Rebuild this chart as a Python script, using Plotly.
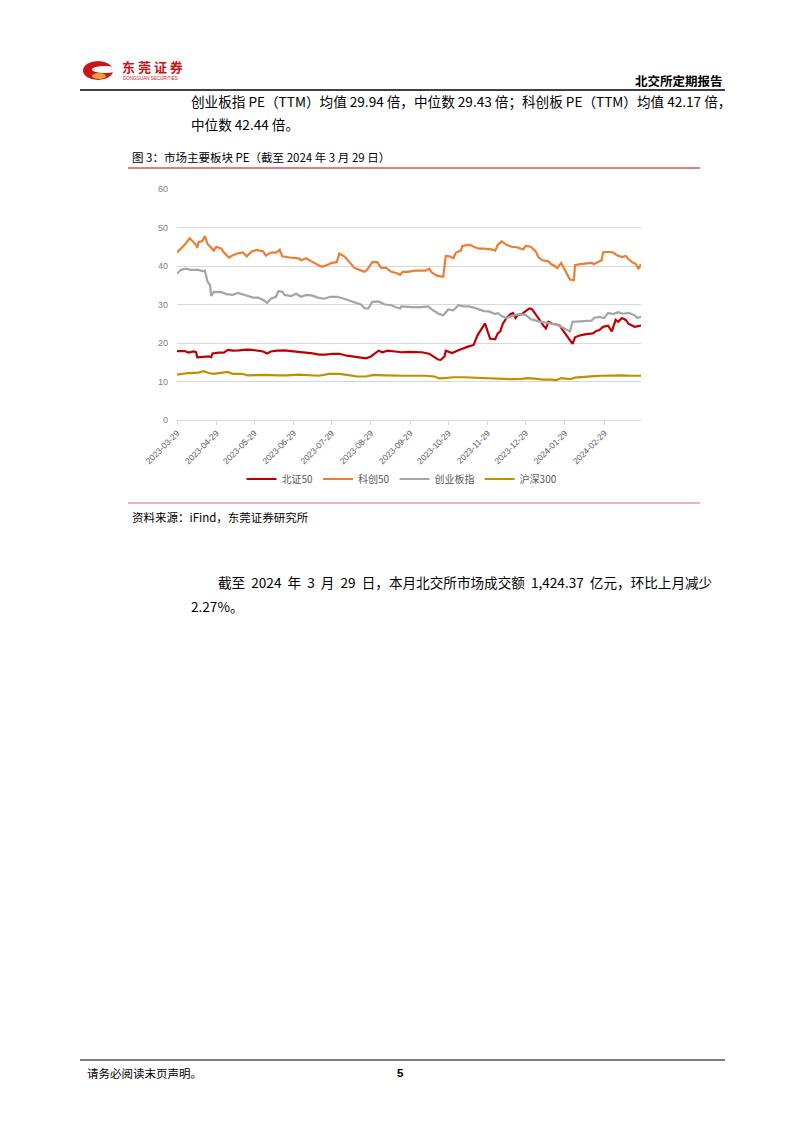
import plotly.graph_objects as go

W, H = 802, 1133

# ---------------- data ----------------
series_names = ["北证50", "科创50", "创业板指", "沪深300"]
series_colors = ["#C00000", "#ED7D31", "#A5A5A5", "#BF9000"]

bz50_dates = ["2023-03-29","2023-04-04","2023-04-07","2023-04-11","2023-04-13","2023-04-14","2023-04-19","2023-04-23","2023-04-25","2023-04-26",
              "2023-05-01","2023-05-05","2023-05-08","2023-05-12","2023-05-17","2023-05-23","2023-05-27","2023-05-31","2023-06-05","2023-06-08",
              "2023-06-11","2023-06-16","2023-06-22","2023-06-27","2023-07-03","2023-07-08","2023-07-14","2023-07-19","2023-07-24","2023-07-30",
              "2023-08-04","2023-08-10","2023-08-15","2023-08-21","2023-08-25","2023-08-29","2023-09-02","2023-09-04","2023-09-07","2023-09-11",
              "2023-09-17","2023-09-22","2023-09-28","2023-10-03","2023-10-08","2023-10-14","2023-10-18","2023-10-21","2023-10-23","2023-10-26",
              "2023-10-27","2023-11-01","2023-11-05","2023-11-09","2023-11-13","2023-11-15","2023-11-18","2023-11-21","2023-11-23","2023-11-25",
              "2023-11-27","2023-11-29","2023-12-01","2023-12-05","2023-12-07","2023-12-09","2023-12-11","2023-12-14","2023-12-17","2023-12-19",
              "2023-12-21","2023-12-23","2023-12-26","2023-12-29","2024-01-01","2024-01-03","2024-01-06","2024-01-09","2024-01-12","2024-01-14",
              "2024-01-16","2024-01-19","2024-01-22","2024-01-25","2024-01-27","2024-01-30","2024-02-02","2024-02-04","2024-02-06","2024-02-10",
              "2024-02-15","2024-02-20","2024-02-23","2024-02-25","2024-02-28","2024-03-03","2024-03-06","2024-03-09","2024-03-11","2024-03-14",
              "2024-03-17","2024-03-19","2024-03-24","2024-03-26","2024-03-29"]
bz50_values = [17.9,17.9,17.5,17.8,17.6,16.3,16.4,16.5,16.3,17.3,
               17.5,17.5,18.2,18.0,18.1,18.3,18.2,18.0,17.8,17.3,
               17.8,18.0,18.1,17.9,17.7,17.6,17.3,17.0,17.0,17.2,
               17.2,16.7,16.5,16.2,16.0,16.5,17.5,18.0,17.6,18.0,
               17.8,17.6,17.7,17.6,17.6,17.2,16.3,15.7,15.6,16.5,
               18.0,17.4,18.0,18.6,19.0,19.2,19.5,22.0,23.0,24.2,
               25.1,23.0,21.1,21.0,22.5,23.0,25.0,26.5,27.5,27.8,
               26.5,27.3,27.5,28.3,29.0,28.8,27.5,26.0,24.5,23.8,
               25.5,25.0,24.8,24.5,23.5,22.0,20.5,19.8,21.5,22.0,
               22.3,22.5,23.2,23.3,24.2,24.5,23.0,26.0,25.5,26.5,
               26.0,25.0,24.2,24.3,24.5]

kc50_dates = ["2023-03-29","2023-04-01","2023-04-04","2023-04-08","2023-04-11","2023-04-13","2023-04-14","2023-04-15","2023-04-18","2023-04-20",
              "2023-04-22","2023-04-24","2023-04-27","2023-04-29","2023-05-03","2023-05-05","2023-05-09","2023-05-12","2023-05-16","2023-05-20",
              "2023-05-23","2023-05-27","2023-05-31","2023-06-05","2023-06-07","2023-06-11","2023-06-15","2023-06-18","2023-06-20","2023-06-26",
              "2023-07-03","2023-07-05","2023-07-09","2023-07-13","2023-07-17","2023-07-21","2023-07-25","2023-07-29","2023-08-02","2023-08-04",
              "2023-08-08","2023-08-12","2023-08-16","2023-08-20","2023-08-24","2023-08-26","2023-08-30","2023-09-03","2023-09-06","2023-09-10",
              "2023-09-14","2023-09-18","2023-09-21","2023-09-23","2023-09-27","2023-10-03","2023-10-11","2023-10-14","2023-10-16","2023-10-20",
              "2023-10-25","2023-10-27","2023-10-30","2023-11-02","2023-11-04","2023-11-08","2023-11-09","2023-11-13","2023-11-15","2023-11-18",
              "2023-11-22","2023-11-26","2023-12-02","2023-12-05","2023-12-07","2023-12-10","2023-12-14","2023-12-18","2023-12-23","2023-12-27",
              "2023-12-29","2024-01-02","2024-01-06","2024-01-08","2024-01-11","2024-01-16","2024-01-18","2024-01-21","2024-01-23","2024-01-26",
              "2024-01-28","2024-01-31","2024-02-02","2024-02-05","2024-02-06","2024-02-10","2024-02-16","2024-02-19","2024-02-21","2024-02-24",
              "2024-02-27","2024-02-28","2024-03-03","2024-03-07","2024-03-10","2024-03-14","2024-03-17","2024-03-19","2024-03-22","2024-03-25",
              "2024-03-27","2024-03-29"]
kc50_values = [43.5,44.5,45.5,47.2,46.0,45.5,44.7,46.2,46.5,47.8,
               45.8,45.0,44.0,45.0,44.5,43.5,42.2,42.8,43.3,43.5,
               42.5,43.8,44.2,43.8,42.7,43.5,43.5,44.2,42.5,42.2,
               42.0,41.5,42.0,41.2,40.5,39.8,40.2,40.8,41.0,43.2,
               42.5,41.0,39.5,39.0,38.5,39.0,41.0,41.0,39.5,39.5,
               38.5,38.2,37.7,38.5,38.5,38.8,38.8,39.3,38.3,37.5,
               37.2,42.6,42.5,42.0,43.5,44.0,45.2,45.4,45.5,45.0,
               44.5,44.5,44.3,44.0,45.5,46.4,45.5,45.0,44.8,44.3,
               45.2,45.0,43.8,42.3,41.5,41.2,40.5,40.0,39.5,40.8,
               39.5,37.5,36.5,36.3,40.2,40.5,40.7,40.8,40.5,41.0,
               41.5,43.5,43.7,43.5,42.8,42.3,42.6,41.8,41.0,40.5,
               39.2,40.5]

cyb_dates = ["2023-03-29","2023-04-01","2023-04-05","2023-04-09","2023-04-15","2023-04-18","2023-04-20","2023-04-22","2023-04-24","2023-04-25",
             "2023-04-27","2023-05-03","2023-05-07","2023-05-12","2023-05-16","2023-05-20","2023-05-24","2023-05-28","2023-06-01","2023-06-05",
             "2023-06-08","2023-06-11","2023-06-15","2023-06-17","2023-06-20","2023-06-22","2023-06-27","2023-07-01","2023-07-05","2023-07-09",
             "2023-07-14","2023-07-18","2023-07-23","2023-07-28","2023-08-02","2023-08-06","2023-08-10","2023-08-15","2023-08-21","2023-08-24",
             "2023-08-27","2023-08-30","2023-09-04","2023-09-09","2023-09-14","2023-09-18","2023-09-21","2023-09-22","2023-09-30","2023-10-08",
             "2023-10-13","2023-10-17","2023-10-22","2023-10-25","2023-10-29","2023-11-02","2023-11-06","2023-11-10","2023-11-14","2023-11-18",
             "2023-11-22","2023-11-26","2023-11-30","2023-12-05","2023-12-07","2023-12-10","2023-12-14","2023-12-18","2023-12-24","2023-12-29",
             "2024-01-02","2024-01-06","2024-01-10","2024-01-14","2024-01-18","2024-01-22","2024-01-26","2024-01-30","2024-02-02","2024-02-04",
             "2024-02-08","2024-02-13","2024-02-19","2024-02-21","2024-02-25","2024-02-29","2024-03-03","2024-03-07","2024-03-11","2024-03-15",
             "2024-03-19","2024-03-24","2024-03-26","2024-03-29"]
cyb_values = [38.0,39.0,39.3,39.0,39.0,38.7,38.8,36.0,35.0,32.2,
              33.3,33.2,32.7,32.5,33.0,32.7,32.2,31.8,31.8,31.2,
              30.4,31.5,32.0,33.5,33.3,32.5,32.2,32.8,32.0,32.5,
              32.3,31.8,31.5,32.0,32.0,31.7,31.3,30.8,30.0,29.0,
              29.0,30.7,30.8,30.0,29.8,29.3,29.0,29.5,29.3,29.3,
              29.5,28.5,27.5,27.2,28.7,28.5,29.8,29.5,29.5,29.2,
              28.7,28.3,28.2,27.5,27.8,27.0,26.5,27.0,27.5,27.3,
              26.2,25.8,25.5,25.3,25.1,24.8,24.2,23.5,23.0,25.5,
              25.6,25.7,25.8,26.5,26.8,26.5,27.8,27.5,28.0,27.6,
              27.8,27.2,26.5,26.8]

hs300_dates = ["2023-03-29","2023-04-07","2023-04-15","2023-04-19","2023-04-23","2023-04-27","2023-05-04","2023-05-08","2023-05-12","2023-05-19",
               "2023-05-24","2023-05-31","2023-06-08","2023-06-16","2023-06-24","2023-07-03","2023-07-11","2023-07-19","2023-07-27","2023-08-04",
               "2023-08-10","2023-08-18","2023-08-25","2023-08-31","2023-09-09","2023-09-17","2023-09-25","2023-10-03","2023-10-11","2023-10-18",
               "2023-10-22","2023-10-26","2023-11-02","2023-11-10","2023-11-18","2023-11-26","2023-12-05","2023-12-10","2023-12-18","2023-12-26",
               "2023-12-30","2024-01-03","2024-01-12","2024-01-19","2024-01-22","2024-01-26","2024-01-30","2024-02-02","2024-02-06","2024-02-13",
               "2024-02-21","2024-02-27","2024-03-06","2024-03-14","2024-03-22","2024-03-29"]
hs300_values = [11.8,12.2,12.3,12.7,12.2,12.0,12.3,12.5,12.0,12.0,
                11.6,11.7,11.7,11.6,11.6,11.8,11.6,11.5,12.0,12.0,
                11.7,11.3,11.3,11.7,11.6,11.5,11.5,11.5,11.5,11.3,
                10.8,10.9,11.1,11.1,11.0,10.9,10.6,10.7,10.6,10.7,
                10.9,10.8,10.5,10.5,10.3,10.9,10.7,10.6,11.0,11.1,
                11.4,11.5,11.6,11.6,11.5,11.5]

tick_dates = ["2023-03-29","2023-04-29","2023-05-29","2023-06-29","2023-07-29","2023-08-29",
              "2023-09-29","2023-10-29","2023-11-29","2023-12-29","2024-01-29","2024-02-29"]
x_range = ["2023-03-29", "2024-03-29"]
y_ticks = [0, 10, 20, 30, 40, 50, 60]

# ---------------- layout helpers ----------------
def px_x(x):
    return x / W

def px_y(y):
    return 1 - y / H

SERIF = "Liberation Serif, Noto Sans CJK SC, serif"
SANS = "Liberation Sans, Noto Sans CJK SC, sans-serif"
CJK = "Noto Sans CJK SC, Liberation Serif, serif"

fig = go.Figure()
all_x = [bz50_dates, kc50_dates, cyb_dates, hs300_dates]
all_y = [bz50_values, kc50_values, cyb_values, hs300_values]
for name, color, xs, ys in zip(series_names, series_colors, all_x, all_y):
    fig.add_trace(go.Scatter(x=xs, y=ys, mode="lines", name=name,
                             line=dict(color=color, width=2.2)))

annotations = []

def text(x, y, s, size, family=SERIF, color="#000000", anchor="left", bold=False):
    if bold:
        s = "<b>" + s + "</b>"
    annotations.append(dict(x=px_x(x), y=px_y(y), xref="paper", yref="paper",
                            text=s, showarrow=False, xanchor=anchor, yanchor="middle",
                            font=dict(size=size, family=family, color=color)))

NB = "&nbsp;&nbsp;"

# header
text(120, 67, "东 莞 证 券", 13, family=CJK, color="#C8161D", bold=True)
text(121, 79, "DONGGUAN SECURITIES", 4.5, family=SANS, color="#C8161D")
text(725, 80, "北交所定期报告", 12.5, family=CJK, anchor="right", bold=True)

# body text
text(189, 101, "创业板指 PE（TTM）均值 29.94 倍，中位数 29.43 倍；科创板 PE（TTM）均值 42.17 倍，", 13.6, family=CJK)
text(189, 124, "中位数 42.44 倍。", 13.6, family=CJK)
text(130, 157, "图 3：市场主要板块 PE（截至 2024 年 3 月 29 日）", 11.5, family=CJK)
text(130, 517, "资料来源：iFind，东莞证券研究所", 11.5, family=CJK)
text(216, 582, "截至" + NB + "2024" + NB + "年" + NB + "3" + NB + "月" + NB + "29" + NB + "日，本月北交所市场成交额"
     + NB + "1,424.37" + NB + "亿元，环比上月减少", 13.6, family=CJK)
text(189, 606, "2.27%。", 13.6, family=CJK)

# footer
text(85, 1073, "请务必阅读末页声明。", 11.5, family=CJK)
text(400, 1073, "5", 11.5, family=SANS, anchor="center", bold=True)

shapes = [
    dict(type="line", xref="paper", yref="paper", x0=px_x(80), x1=px_x(725), y0=px_y(90), y1=px_y(90),
         line=dict(color="#000000", width=1.5)),
    dict(type="line", xref="paper", yref="paper", x0=px_x(128), x1=px_x(700), y0=px_y(168), y1=px_y(168),
         line=dict(color="#C00000", width=1)),
    dict(type="line", xref="paper", yref="paper", x0=px_x(128), x1=px_x(700), y0=px_y(503), y1=px_y(503),
         line=dict(color="#E06666", width=1)),
    dict(type="line", xref="paper", yref="paper", x0=px_x(80), x1=px_x(725), y0=px_y(1060), y1=px_y(1060),
         line=dict(color="#000000", width=1.2)),
    # logo
    dict(type="circle", xref="paper", yref="paper", x0=px_x(83), x1=px_x(113), y0=px_y(80), y1=px_y(61),
         fillcolor="#C8161D", line=dict(width=0)),
    dict(type="circle", xref="paper", yref="paper", x0=px_x(92), x1=px_x(118), y0=px_y(73), y1=px_y(66),
         fillcolor="#FFFFFF", line=dict(width=0)),
    dict(type="circle", xref="paper", yref="paper", x0=px_x(92), x1=px_x(106), y0=px_y(79), y1=px_y(73),
         fillcolor="#E9A23B", line=dict(width=0)),
]

fig.update_layout(
    template="none",
    width=W, height=H, margin=dict(l=0, r=0, t=0, b=0, pad=0, autoexpand=False),
    paper_bgcolor="#FFFFFF", plot_bgcolor="#FFFFFF",
    annotations=annotations, shapes=shapes,
    showlegend=True,
    legend=dict(orientation="h", x=px_x(402), y=px_y(479), xanchor="center", yanchor="middle",
                font=dict(size=10, family=CJK, color="#595959"), itemwidth=30,
                traceorder="normal", bgcolor="rgba(0,0,0,0)"),
    xaxis=dict(domain=[px_x(177), px_x(641)], type="date", range=x_range, automargin=False,
               tickmode="array", tickvals=tick_dates, ticktext=tick_dates, tickangle=-45,
               tickfont=dict(size=8.5, family=SANS, color="#595959"),
               showgrid=False, showline=True, linecolor="#D9D9D9", linewidth=1,
               ticks="outside", ticklen=4, tickcolor="#D9D9D9", zeroline=False),
    yaxis=dict(domain=[px_y(420), px_y(189)], range=[0, 60], tickmode="array", tickvals=y_ticks,
               automargin=False,
               tickfont=dict(size=9, family=SANS, color="#7F7F7F"),
               showgrid=True, gridcolor="#D9D9D9", gridwidth=1, zeroline=False,
               showline=False, ticks="", ticklabelstandoff=8),
)

fig.write_html("out.html")
